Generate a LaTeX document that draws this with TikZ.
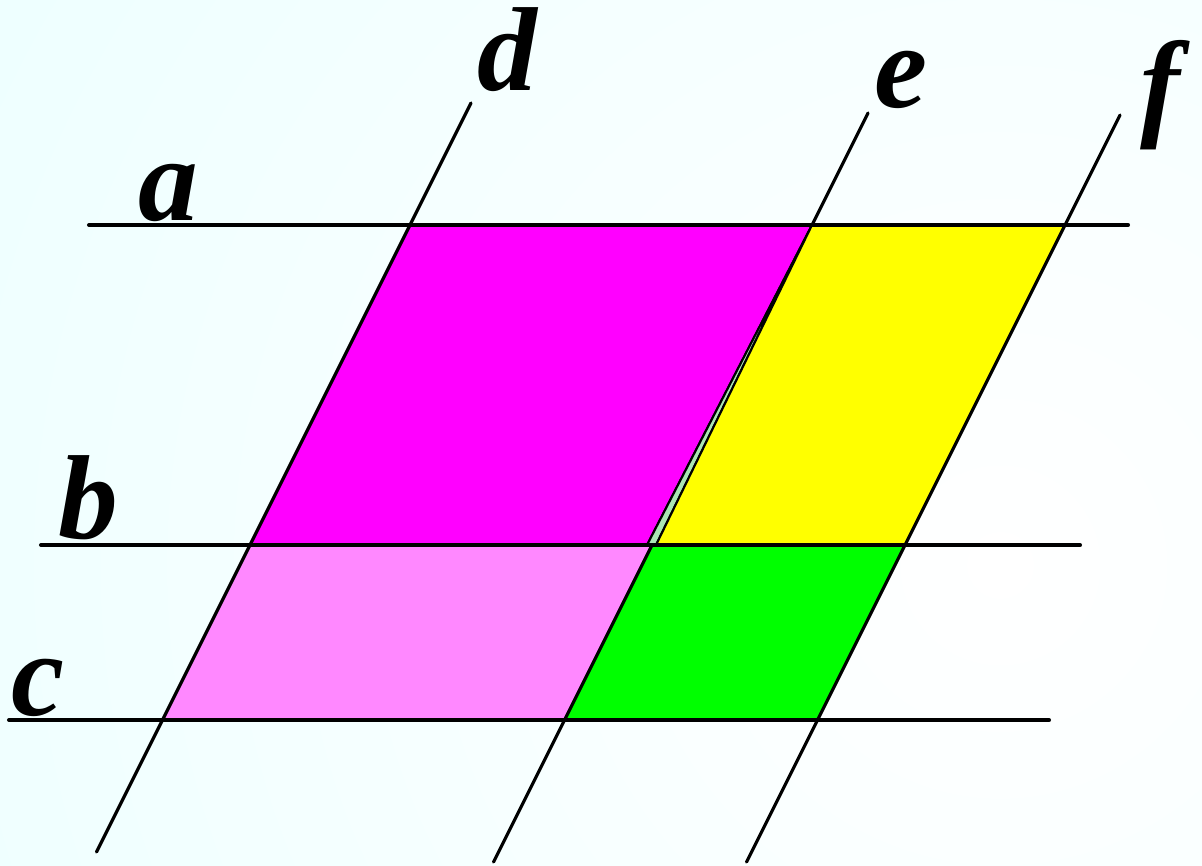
\documentclass[tikz,border=0pt]{standalone}
\usepackage{fontspec}
\setmainfont{Liberation Serif}
\definecolor{bgcyan}{RGB}{222,255,255}
\definecolor{cellmag}{RGB}{255,0,255}
\definecolor{cellpink}{RGB}{255,136,255}
\definecolor{cellyel}{RGB}{255,255,0}
\definecolor{cellgrn}{RGB}{0,255,0}
\definecolor{sliver}{RGB}{170,230,180}

\begin{document}
\begin{tikzpicture}[line cap=round,line join=round,
  lbl/.style={anchor=base,font=\fontsize{34}{40}\selectfont\bfseries\itshape}]
  \useasboundingbox (0,0) rectangle (12.02,8.65);
  \begin{scope}
    \clip (0,0) rectangle (12.02,8.65);
    \shade[inner color=white,outer color=bgcyan] (10,3) circle (22);
  \end{scope}
  % crossings
  \coordinate (A1) at (4.10,6.40);
  \coordinate (A2) at (8.12,6.40);
  \coordinate (A3) at (10.65,6.40);
  \coordinate (B1) at (2.50,3.20);
  \coordinate (B2) at (6.52,3.20);
  \coordinate (B3) at (9.05,3.20);
  \coordinate (C1) at (1.625,1.45);
  \coordinate (C2) at (5.645,1.45);
  \coordinate (C3) at (8.175,1.45);
  \coordinate (B2m) at (6.47,3.20);
  \coordinate (B2y) at (6.56,3.20);
  % ends of the lines
  \coordinate (aL) at (0.89,6.40);
  \coordinate (aR) at (11.28,6.40);
  \coordinate (bL) at (0.41,3.20);
  \coordinate (bR) at (10.80,3.20);
  \coordinate (cL) at (0.09,1.45);
  \coordinate (cR) at (10.49,1.45);
  \coordinate (dT) at (4.71,7.62);
  \coordinate (dB) at (0.965,0.13);
  \coordinate (eT) at (8.68,7.52);
  \coordinate (eB) at (4.935,0.03);
  \coordinate (fT) at (11.20,7.50);
  \coordinate (fB) at (7.465,0.03);
  % cells
  \filldraw[fill=cellmag,line width=0.6pt] (A1) -- (A2) -- (B2m) -- (B1) -- cycle;
  \filldraw[fill=sliver,line width=0.6pt] (A2) -- (B2y) -- (B2m) -- cycle;
  \filldraw[fill=cellyel,line width=0.6pt] (A2) -- (A3) -- (B3) -- (B2y) -- cycle;
  \filldraw[fill=cellpink,line width=0.6pt] (B1) -- (B2) -- (C2) -- (C1) -- cycle;
  \filldraw[fill=cellgrn,line width=0.6pt] (B2) -- (B3) -- (C3) -- (C2) -- cycle;
  % lines
  \draw[line width=1.15pt] (aL) -- (aR);
  \draw[line width=1.15pt] (bL) -- (bR);
  \draw[line width=1.15pt] (cL) -- (cR);
  \draw[line width=0.9pt] (dT) -- (dB);
  \draw[line width=0.9pt] (eT) -- (A2);
  \draw[line width=0.9pt] (B2) -- (eB);
  \draw[line width=0.9pt] (fT) -- (fB);
  \node[lbl] (la) at (1.68,6.45) {a};
  \node[lbl] (lb) at (0.88,3.27) {b};
  \node[lbl] (lc) at (0.38,1.50) {c};
  \node[lbl] (ld) at (5.07,7.75) {d};
  \node[lbl] (le) at (9.01,7.58) {e};
  \node[lbl] (lf) at (11.60,7.41) {f};
\end{tikzpicture}
\end{document}
